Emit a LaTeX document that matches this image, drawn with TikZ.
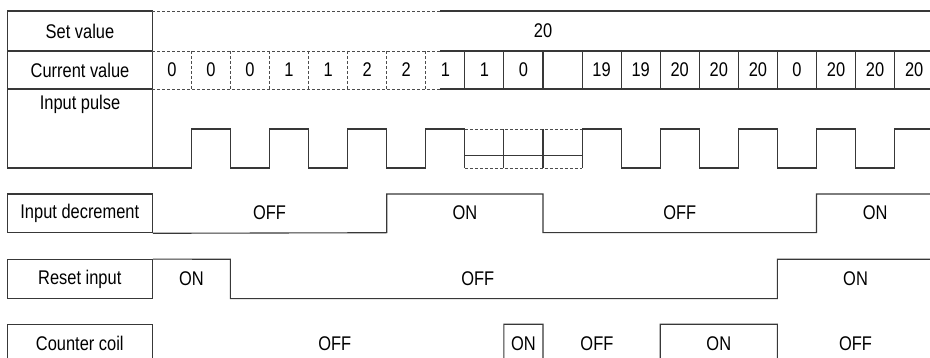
\documentclass[tikz,border=0pt]{standalone}
\usepackage{fontspec}
\setmainfont{Liberation Sans}[FakeStretch=0.83]
\tikzset{
	wave/.style={line width=1.1pt, draw=black!78},
	dashline/.style={line width=0.9pt, draw=black!70, dash pattern=on 3pt off 2pt},
	lbl/.style={font=\fontsize{19.8}{22}\selectfont, text=black, inner sep=0pt},
	namebox/.style={wave, lbl, minimum width=145pt, minimum height=38.7pt},
}
\begin{document}
\begin{tikzpicture}[x=1pt,y=-1pt]
	\useasboundingbox (0,0) rectangle (930,358);
	% Name column of the table
	\draw[wave] (7.3,11) rectangle (152.3,168) ;
	\draw[wave] (7.3,51) -- (152.3,51) ;
	\draw[wave] (7.3,89) -- (152.3,89) ;
	\node[lbl] (setname) at (80,31) {Set value};
	\node[lbl] (curname) at (80,70) {Current value};
	\node[lbl] (pulsename) at (80,104) {Input pulse};
	% Name boxes of the signals
	\node[namebox] (decname) at (79.8,213.4) {Input decrement};
	\node[namebox] (rstname) at (79.8,279) {Reset input};
	\node[namebox] (coilname) at (79.8,343.7) {Counter coil};
	% Time part, one unit per count
	\begin{scope}[xshift=152.3pt, x=39.07pt]
		% Rows of the table
		\foreach \y in {11,51,89} {
			\draw[dashline] (0,\y) -- (7.36,\y) ;
			\draw[wave] (7.36,\y) -- (19.91,\y) ;
		}
		\foreach \i in {1,...,7}
			\draw[dashline] (\i,51) -- (\i,89) ;
		\foreach \i in {8,...,19}
			\draw[wave] (\i,51) -- (\i,89) ;
		\node[lbl] (setval) at (10,31) {20};
		\foreach \v [count=\i from 0] in {0,0,0,1,1,2,2,1,1,0,{},19,19,20,20,20,0,20,20,20}
			\node[lbl] (cur\i) at (\i+0.5,70) {\v};
		% Input pulse
		\draw[wave] (0,168) -- (1,168) -- (1,129) -- (2,129) -- (2,168) -- (3,168) -- (3,129)
			-- (4,129) -- (4,168) -- (5,168) -- (5,129) -- (6,129) -- (6,168) -- (7,168)
			-- (7,129) -- (8,129) -- (8,168) ;
		\draw[dashline] (8,129) -- (11,129) ;
		\draw[dashline] (8,168) -- (11,168) ;
		\draw[wave] (8,155.3) -- (11,155.3) ;
		\foreach \i in {9,10}
			\draw[wave] (\i,129) -- (\i,168) ;
		\draw[wave] (11,168) -- (11,129) -- (12,129) -- (12,168) -- (13,168) -- (13,129)
			-- (14,129) -- (14,168) -- (15,168) -- (15,129) -- (16,129) -- (16,168) -- (17,168)
			-- (17,129) -- (18,129) -- (18,168) -- (19,168) -- (19,129) -- (19.91,129) ;
		% Input decrement
		\draw[wave] (decname.south east) -- (6,232.7) -- (6,194) -- (10,194) -- (10,232.7)
			-- (17,232.7) -- (17,194) -- (19.91,194) ;
		\node[lbl] (dec1) at (3,213) {OFF};
		\node[lbl] (dec2) at (8,213) {ON};
		\node[lbl] (dec3) at (13.5,213) {OFF};
		\node[lbl] (dec4) at (18.5,213) {ON};
		% Reset input
		\draw[wave] (rstname.north east) -- (2,259.3) -- (2,298.7) -- (16,298.7) -- (16,259.3)
			-- (19.91,259.3) ;
		\node[lbl] (rst1) at (1,279) {ON};
		\node[lbl] (rst2) at (8.33,279) {OFF};
		\node[lbl] (rst3) at (18,279) {ON};
		% Counter coil
		\draw[wave] (coilname.south east) -- (9,363) -- (9,324.3) -- (10,324.3) -- (10,363)
			-- (13,363) -- (13,324.3) -- (16,324.3) -- (16,363) -- (19.91,363) ;
		\node[lbl] (coil1) at (4.67,344) {OFF};
		\node[lbl] (coil2) at (9.5,344) {ON};
		\node[lbl] (coil3) at (11.38,344) {OFF};
		\node[lbl] (coil4) at (14.5,344) {ON};
		\node[lbl] (coil5) at (18,344) {OFF};
	\end{scope}
\end{tikzpicture}
\end{document}
